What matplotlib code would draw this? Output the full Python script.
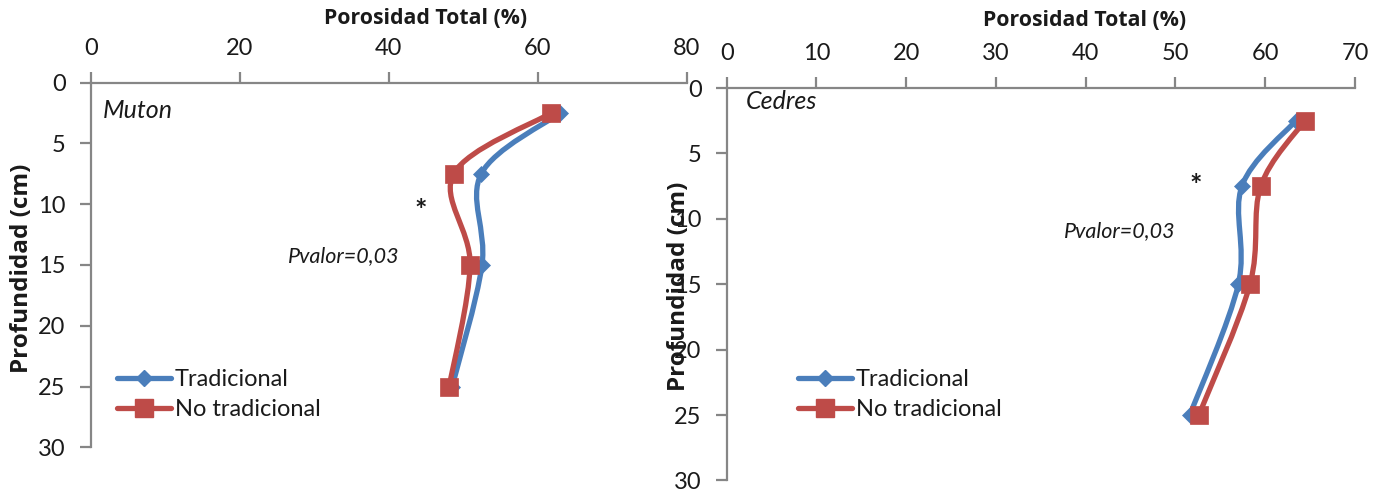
import matplotlib
matplotlib.use("Agg")
import matplotlib.pyplot as plt
from matplotlib.path import Path
from matplotlib.patches import PathPatch
from matplotlib.lines import Line2D
import numpy as np

# ---------------- data ----------------
depth = [2.5, 7.5, 15, 25]
muton_trad = [63.0, 52.4, 52.5, 48.5]
muton_notrad = [61.8, 48.7, 50.9, 48.1]
cedres_trad = [63.4, 57.4, 57.0, 51.6]
cedres_notrad = [64.4, 59.5, 58.3, 52.6]
series_labels = ["Tradicional", "No tradicional"]
site_labels = ["Muton", "Cedres"]
xticks_muton = [0, 20, 40, 60, 80]
xticks_cedres = [0, 10, 20, 30, 40, 50, 60, 70]
yticks = [0, 5, 10, 15, 20, 25, 30]

BLUE = "#4A7EBB"
RED = "#BE4B48"
GRAY = "#868686"
TXT = "#1a1a1a"
FONT = ["Lato", "DejaVu Sans"]
BOLDFONT = ["Open Sans", "DejaVu Sans"]
plt.rcParams["font.family"] = FONT

W, H = 1389, 492
fig = plt.figure(figsize=(W / 100, H / 100), dpi=100)


def px_rect(l, t, r, b):
    return [l / W, 1 - b / H, (r - l) / W, (b - t) / H]


def smooth_path(xs, ys):
    pts = np.column_stack([xs, ys]).astype(float)
    n = len(pts)
    verts = [pts[0]]
    codes = [Path.MOVETO]
    for i in range(n - 1):
        p0 = pts[i - 1] if i > 0 else pts[i]
        p1 = pts[i]
        p2 = pts[i + 1]
        p3 = pts[i + 2] if i + 2 < n else pts[i + 1]
        c1 = p1 + (p2 - p0) / 6.0
        c2 = p2 - (p3 - p1) / 6.0
        verts += [c1, c2, p2]
        codes += [Path.CURVE4] * 3
    return Path(verts, codes)


def setup(ax, xmax, xticks):
    ax.set_xlim(0, xmax)
    ax.set_ylim(30, 0)
    ax.set_xticks(xticks)
    ax.set_yticks(yticks)
    ax.xaxis.tick_top()
    for s in ["right", "bottom"]:
        ax.spines[s].set_visible(False)
    for s in ["top", "left"]:
        ax.spines[s].set_color(GRAY)
        ax.spines[s].set_linewidth(1.6)
    ax.tick_params(axis="both", direction="out", length=8, width=1.6,
                   color=GRAY, labelsize=17, labelcolor=TXT)
    ax.tick_params(axis="x", pad=9)
    ax.tick_params(axis="y", pad=10)
    ax.patch.set_alpha(0)


def draw(ax, trad, notrad):
    for vals, col, mk, ms in [(trad, BLUE, "D", 8.5), (notrad, RED, "s", 13.5)]:
        ax.add_patch(PathPatch(smooth_path(vals, depth), facecolor="none",
                               edgecolor=col, lw=3.8, capstyle="round",
                               joinstyle="round", zorder=3))
        ax.plot(vals, depth, ls="none", marker=mk, ms=ms, color=col,
                mec=col, mew=0.5, zorder=4, clip_on=False)


def legend(ax, anchor):
    handles = [
        Line2D([], [], color=BLUE, lw=3.8, marker="D", ms=8.5, solid_capstyle="round"),
        Line2D([], [], color=RED, lw=3.8, marker="s", ms=13.5, solid_capstyle="round"),
    ]
    ax.legend(handles, series_labels, loc="upper left",
              bbox_to_anchor=anchor, bbox_transform=fig.transFigure,
              frameon=False, fontsize=17, handlelength=2.3,
              handletextpad=0.15, labelspacing=0.38, borderpad=0,
              borderaxespad=0, numpoints=1, labelcolor=TXT)


# ---------------- left panel (Muton) ----------------
axL = fig.add_axes(px_rect(90.7, 82.5, 687, 447.3))
setup(axL, 80, xticks_muton)
draw(axL, muton_trad, muton_notrad)
axL.text(1.6, 2.3, site_labels[0], fontsize=18, style="italic", color=TXT,
         ha="left", va="center")
axL.text(44.3, 10.6, "*", fontsize=21, fontweight="bold", color=TXT,
         ha="center", va="center")
axL.text(34.0, 14.3, "Pvalor=0,03", fontsize=15.5, style="italic", color=TXT,
         ha="center", va="center")
legend(axL, (117 / W, 1 - 369 / H))

# ---------------- right panel (Cedres) ----------------
axR = fig.add_axes(px_rect(726.7, 88, 1355, 480.5))
setup(axR, 70, xticks_cedres)
draw(axR, cedres_trad, cedres_notrad)
axR.text(2.1, 1.05, site_labels[1], fontsize=18, style="italic", color=TXT,
         ha="left", va="center")
axR.text(52.3, 7.5, "*", fontsize=21, fontweight="bold", color=TXT,
         ha="center", va="center")
axR.text(43.8, 10.9, "Pvalor=0,03", fontsize=15.5, style="italic", color=TXT,
         ha="center", va="center")
legend(axR, (798 / W, 1 - 369 / H))

# ---------------- axis titles ----------------
fig.text(426 / W, 1 - 19 / H, "Porosidad Total (%)", fontsize=15.3,
         fontweight="bold", family=BOLDFONT, color=TXT, ha="center", va="center")
fig.text(1085 / W, 1 - 20 / H, "Porosidad Total (%)", fontsize=15.3,
         fontweight="bold", family=BOLDFONT, color=TXT, ha="center", va="center")
fig.text(22 / W, 1 - 268 / H, "Profundidad (cm)", fontsize=17.5,
         fontweight="bold", family=BOLDFONT, color=TXT, ha="center", va="center",
         rotation=90)
fig.text(679 / W, 1 - 286 / H, "Profundidad (cm)", fontsize=17.5,
         fontweight="bold", family=BOLDFONT, color=TXT, ha="center", va="center",
         rotation=90)

fig.savefig("out.png", dpi=100)
